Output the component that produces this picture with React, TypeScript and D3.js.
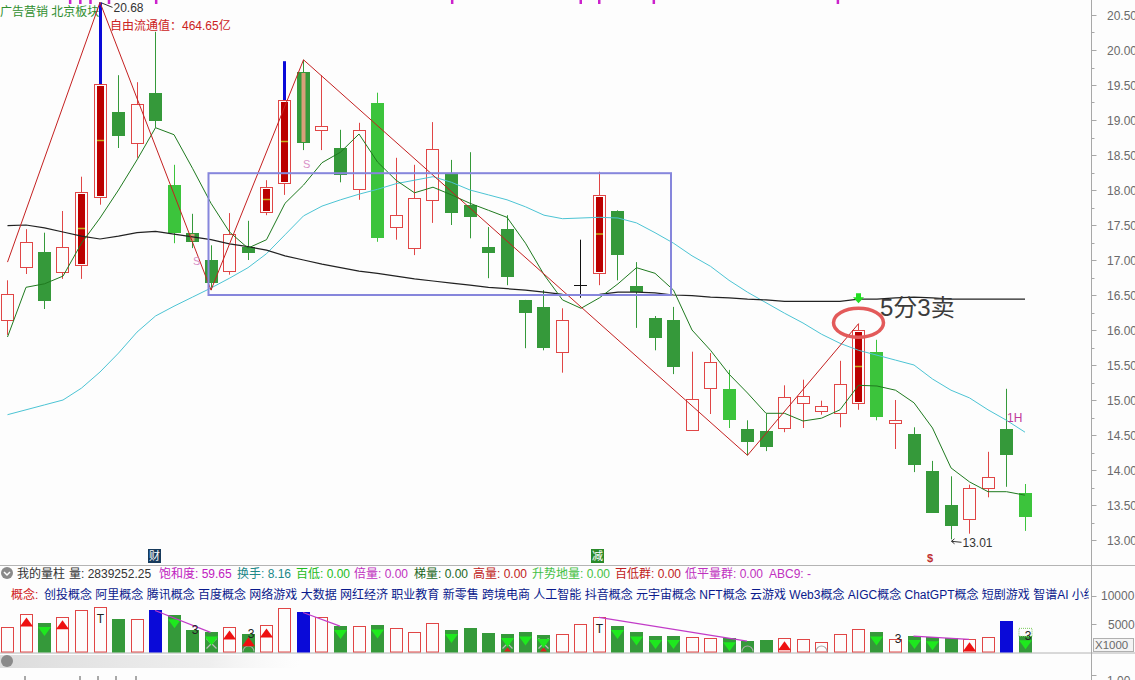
import React from "react";
import * as d3 from "d3";

// ---------- data ----------
const opens = [16.14, 16.9, 17.11, 16.83, 16.93, 17.9, 19.11, 18.67, 19.39, 18.07, 17.39, 17.0, 16.84, 17.19, 17.69, 18.1, 19.69, 18.86, 18.6, 18.01, 19.24, 17.47, 17.17, 17.86, 18.24, 17.79, 17.19, 17.44, 16.43, 16.33, 15.69, 16.64, 16.81, 17.7, 16.63, 16.17, 16.14, 14.57, 15.17, 15.16, 14.59, 14.56, 14.6, 14.96, 14.84, 14.81, 14.96, 15.69, 14.67, 14.51, 13.99, 13.5, 13.3, 13.74, 14.59, 13.67];
const highs = [16.71, 17.44, 17.39, 17.7, 18.19, 20.68, 19.64, 19.54, 20.26, 18.36, 17.66, 17.21, 17.67, 17.56, 18.14, 19.84, 19.86, 19.64, 18.86, 18.96, 19.39, 18.46, 18.36, 18.97, 18.43, 18.54, 17.47, 17.64, 16.43, 16.57, 16.31, 17.29, 18.26, 17.71, 16.97, 16.2, 16.33, 15.69, 15.67, 15.43, 14.71, 14.8, 15.21, 15.29, 14.99, 15.56, 16.09, 15.86, 15.0, 14.61, 14.13, 13.91, 13.79, 14.26, 15.16, 13.8];
const lows = [15.93, 16.8, 16.3, 16.73, 16.73, 17.79, 18.6, 18.46, 18.89, 17.24, 17.17, 16.57, 16.79, 17.0, 17.64, 17.93, 18.57, 18.57, 18.11, 17.86, 17.26, 17.29, 17.07, 17.53, 17.5, 17.31, 16.74, 16.64, 15.74, 15.71, 15.39, 16.46, 16.64, 16.71, 16.03, 15.71, 15.37, 14.56, 14.8, 14.6, 14.21, 14.27, 14.54, 14.6, 14.79, 14.61, 14.86, 14.71, 14.3, 13.97, 13.39, 13.01, 13.09, 13.61, 13.76, 13.13];
const closes = [16.51, 17.26, 16.41, 17.19, 17.97, 19.51, 18.77, 19.23, 18.99, 17.39, 17.26, 16.67, 17.37, 17.1, 18.04, 19.29, 18.67, 18.91, 18.21, 18.86, 17.31, 17.64, 17.89, 18.59, 17.67, 17.61, 17.1, 16.76, 16.24, 15.74, 16.14, 16.64, 17.93, 17.07, 16.54, 15.89, 15.47, 15.01, 15.54, 14.71, 14.4, 14.33, 15.04, 15.06, 14.91, 15.23, 16.0, 14.76, 14.71, 14.07, 13.39, 13.2, 13.74, 13.9, 14.21, 13.33];
// h = hollow red, s = solid red, g = green, G = bright green, gs = green with mark, d = doji
const candleKinds = ["h","h","g","h","s","s","g","h","g","G","gs","g","h","g","s","s","gs","h","g","h","G","h","h","h","g","g","g","g","g","g","h","d","s","g","g","g","g","h","h","G","g","g","h","h","h","h","s","G","h","g","g","g","h","h","g","G"];
const blueWickIdx = [5, 15];

const ma5 = [15.9, 16.61, 16.66, 16.77, 17.24, 17.6, 18.0, 18.43, 18.89, 18.79, 18.31, 17.81, 17.4, 17.17, 17.29, 17.81, 18.07, 18.39, 18.54, 18.8, 18.4, 18.14, 17.96, 18.04, 17.93, 17.81, 17.71, 17.61, 17.24, 16.79, 16.43, 16.31, 16.46, 16.66, 16.89, 16.81, 16.57, 16.0, 15.71, 15.37, 15.1, 14.81, 14.81, 14.7, 14.74, 14.86, 15.21, 15.2, 15.14, 14.96, 14.6, 14.03, 13.83, 13.69, 13.69, 13.64];
const ma20 = [14.79, 14.86, 14.93, 15.0, 15.17, 15.4, 15.67, 15.97, 16.2, 16.34, 16.47, 16.6, 16.74, 16.89, 17.09, 17.36, 17.63, 17.77, 17.86, 17.94, 18.01, 18.09, 18.14, 18.19, 18.11, 18.0, 17.93, 17.86, 17.76, 17.64, 17.59, 17.6, 17.61, 17.6, 17.53, 17.39, 17.24, 17.06, 16.91, 16.71, 16.54, 16.39, 16.24, 16.1, 15.94, 15.81, 15.71, 15.64, 15.57, 15.5, 15.3, 15.14, 15.03, 14.86, 14.71, 14.54];
const ma60 = [17.49, 17.5, 17.46, 17.4, 17.34, 17.3, 17.34, 17.39, 17.41, 17.37, 17.33, 17.29, 17.23, 17.19, 17.14, 17.06, 17.0, 16.94, 16.89, 16.84, 16.81, 16.77, 16.73, 16.7, 16.67, 16.64, 16.61, 16.59, 16.57, 16.54, 16.51, 16.5, 16.51, 16.54, 16.54, 16.53, 16.5, 16.49, 16.47, 16.46, 16.44, 16.43, 16.41, 16.41, 16.41, 16.41, 16.44, 16.44, 16.46, 16.47, 16.46, 16.44, 16.44, 16.44, 16.44, 16.44];
const zigIdx = [0, 5, 11, 16, 40, 46];
const zigVal = [16.97, 20.68, 16.57, 19.86, 14.21, 16.09];
const boxRange = { from: 11, to: 36, lo: 16.5, hi: 18.24 };

const volumes = [4420, 6700, 5174, 6227, 7402, 7928, 5929, 5876, 7402, 6578, 3894, 3543, 4420, 3192, 4771, 7753, 7051, 6174, 4648, 4648, 4771, 4297, 3543, 5122, 3947, 4297, 3420, 3245, 3543, 3070, 3245, 4999, 6174, 4648, 3543, 2894, 2894, 2666, 2491, 2491, 2017, 2140, 2491, 2315, 1894, 3192, 4122, 3543, 2315, 2894, 2666, 2491, 2315, 2666, 5525, 2839];
const volKinds = ["h","h","g","h","h","h","g","h","b","g","g","g","h","g","h","h","b","h","g","h","g","h","h","h","g","g","g","g","g","g","h","h","h","g","g","g","g","h","h","g","g","g","h","h","h","h","h","g","h","g","g","g","h","h","b","g"];
const volDownMarks = [2, 9, 11, 18, 20, 24, 27, 28, 29, 33, 34, 35, 36, 39, 47, 49, 50, 55];
const volUpMarks = [1, 3, 12, 13, 14, 42, 52];
const volXMarks = [11, 27, 29];
const volCircleMarks = [13, 40, 44];
const volLabels: [number, string][] = [[5, "T"], [32, "T"], [10, "3"], [13, "3"], [48, "3"], [55, "3"]];
const volLinks: [number, number][] = [[8, 11], [16, 18], [32, 40], [49, 52]];

const priceTicks = [13, 13.5, 14, 14.5, 15, 15.5, 16, 16.5, 17, 17.5, 18, 18.5, 19, 19.5, 20, 20.5];
const volTicks = [5000, 10000];
const topMarks = [3.4, 3.95, 4.5, 5.5, 8.05, 24.05, 31.0, 32.0, 34.95, 44.9];

const statusItems: [string, string][] = [
  ["我的量柱", "#333"],
  ["量: 2839252.25", "#333"],
  ["饱和度: 59.65", "#c020c0"],
  ["换手: 8.16", "#208888"],
  ["百低: 0.00", "#22bb22"],
  ["倍量: 0.00", "#c030c0"],
  ["梯量: 0.00", "#226622"],
  ["高量: 0.00", "#c02020"],
  ["升势地量: 0.00", "#44c044"],
  ["百低群: 0.00", "#c02020"],
  ["低平量群: 0.00", "#c030c0"],
  ["ABC9: -", "#c030c0"],
];
const statusX = [17, 69, 159, 237, 296, 354, 414, 473, 532, 615, 685, 769];
const concepts = ["创投概念", "阿里概念", "腾讯概念", "百度概念", "网络游戏", "大数据", "网红经济", "职业教育", "新零售", "跨境电商", "人工智能", "抖音概念", "元宇宙概念", "NFT概念", "云游戏", "Web3概念", "AIGC概念", "ChatGPT概念", "短剧游戏", "智谱AI", "小红书"];

const FONT = "'Liberation Sans', Arial, 'Noto Sans CJK SC', sans-serif";
const RED = "#e04646";
const DRED = "#bb0000";
const GREEN = "#35993a";
const BGREEN = "#3cc43c";
const BLUE = "#0a0ad8";

export default function App() {
  React.useEffect(() => {
    document.body.style.margin = "0";
  }, []);

  const x = d3.scaleLinear().domain([0, 55]).range([7, 1024.5]);
  const y = d3.scaleLinear().domain([13, 20]).range([540, 50]);
  const vy = d3.scaleLinear().domain([0, 10000]).range([652.5, 595.7]);
  const idx = d3.range(closes.length);
  const cxOf = (i: number) => Math.round(x(i));

  const lineGen = (arr: number[]) =>
    d3.line<number>().x((_, i) => x(i) + 0.5).y((d) => y(d))(arr) || "";
  const zigPath =
    d3.line<number>().x((d) => x(d) + 0.5).y((_, k) => y(zigVal[k]))(zigIdx) || "";

  const axisX = 1091.5;

  return (
    <div style={{ position: "absolute", left: 0, top: 0 }}>
      <svg width={1135} height={680} style={{ display: "block", background: "#fdfdfd" }} fontFamily={FONT}>
        <defs>
          <clipPath id="main">
            <rect x={0} y={0} width={1091} height={565} />
          </clipPath>
          <clipPath id="left">
            <rect x={0} y={0} width={1089} height={680} />
          </clipPath>
          <linearGradient id="blur" x1="0" x2="1" y1="0" y2="0">
            <stop offset="0" stopColor="#d8d8d8" stopOpacity="0.9" />
            <stop offset="0.7" stopColor="#e8e8e8" stopOpacity="0.7" />
            <stop offset="1" stopColor="#f4f4f4" stopOpacity="0" />
          </linearGradient>
        </defs>

        {/* header texts */}
        <text x={0} y={16} fontSize={12} fill="#2f8f2f">广告营销 北京板块</text>
        <text x={110} y={30} fontSize={12} fill="#cc2222">自由流通值：464.65亿</text>

        {/* magenta marks at top */}
        {topMarks.map((m, k) => (
          <rect key={"tm" + k} x={x(m) - 1} y={0} width={2.5} height={4} fill="#cc22cc" />
        ))}

        <g clipPath="url(#main)">
          {/* candles */}
          {idx.map((i) => {
            const cx = cxOf(i);
            const k = candleKinds[i];
            const o = opens[i], c = closes[i], h = highs[i], l = lows[i];
            const top = Math.round(y(Math.max(o, c)));
            const bot = Math.round(y(Math.min(o, c)));
            const yh = y(h), yl = y(l);
            const isRed = k === "h" || k === "s";
            const blueWick = blueWickIdx.includes(i);
            if (k === "d") {
              return (
                <g key={"c" + i}>
                  <line x1={cx + 0.5} x2={cx + 0.5} y1={yh} y2={yl} stroke="#111" />
                  <line x1={cx - 6} x2={cx + 7} y1={top + 0.5} y2={top + 0.5} stroke="#111" />
                </g>
              );
            }
            if (isRed) {
              return (
                <g key={"c" + i}>
                  {blueWick ? (
                    <line x1={cx + 0.5} x2={cx + 0.5} y1={yh} y2={top} stroke={BLUE} strokeWidth={3} />
                  ) : (
                    <line x1={cx + 0.5} x2={cx + 0.5} y1={yh} y2={top} stroke={RED} />
                  )}
                  <line x1={cx + 0.5} x2={cx + 0.5} y1={bot} y2={yl} stroke={RED} />
                  <rect x={cx - 5.5} y={top + 0.5} width={12} height={Math.max(bot - top, 1)} fill={k === "s" ? "#fdfdfd" : "none"} stroke={RED} />
                  {k === "s" && (
                    <>
                      <rect x={cx - 3} y={top + 2} width={7} height={Math.max(bot - top - 3, 1)} fill={DRED} />
                      <line x1={cx - 3} x2={cx + 4} y1={(top + bot) / 2} y2={(top + bot) / 2} stroke="#c8b020" strokeWidth={1.5} />
                    </>
                  )}
                </g>
              );
            }
            const col = k === "G" ? BGREEN : GREEN;
            return (
              <g key={"c" + i}>
                <line x1={cx + 0.5} x2={cx + 0.5} y1={yh} y2={yl} stroke={col} />
                <rect x={cx - 6} y={top} width={13} height={Math.max(bot - top, 1.5)} fill={col} />
                {k === "gs" && (
                  <rect x={cx - 1.5} y={top + 1} width={4} height={Math.max(bot - top - 2, 1)} fill="#d9a07a" />
                )}
              </g>
            );
          })}

          {/* moving averages */}
          <path d={lineGen(ma20)} fill="none" stroke="#4cc4d4" strokeWidth={1} />
          <path d={lineGen(ma60)} fill="none" stroke="#222" strokeWidth={1.2} />
          <path d={lineGen(ma5)} fill="none" stroke="#1f7a1f" strokeWidth={1} />
          <path d={zigPath} fill="none" stroke="#c42020" strokeWidth={1} />

          {/* box */}
          <rect
            x={x(boxRange.from) - 2}
            y={y(boxRange.hi)}
            width={x(boxRange.to) - x(boxRange.from)}
            height={y(boxRange.lo) - y(boxRange.hi)}
            fill="none"
            stroke="#8686dc"
            strokeWidth={2}
          />

          {/* annotations */}
          <line x1={x(5) + 2} y1={y(20.68) + 0.5} x2={x(5) + 13} y2={y(20.68) + 5} stroke="#333" />
          <text x={x(5) + 14} y={y(20.68) + 10} fontSize={12} fill="#333">20.68</text>

          <line x1={x(51) + 1} y1={y(13.01) + 2} x2={x(51) + 11} y2={y(13.01) + 3} stroke="#333" />
          <path d={`M${x(51) + 1},${y(13.01) + 2} l3,-2.5 M${x(51) + 1},${y(13.01) + 2} l3,2.5`} stroke="#333" fill="none" />
          <text x={x(51) + 12} y={y(13.01) + 8} fontSize={12} fill="#333">13.01</text>

          <text x={x(10) + 1} y={y(17.0) + 5} fontSize={11} fill="#d890c8">S</text>
          <text x={x(16) + 0} y={y(18.39) + 5} fontSize={11} fill="#d890c8">S</text>

          {/* sell signal */}
          <path
            d={`M${x(46) - 2},${y(16.44) - 6} h5 v4 h3 l-5.5,6 l-5.5,-6 h3 z`}
            fill="#22dd22"
          />
          <ellipse cx={x(46) + 0.5} cy={y(16.09) - 1} rx={25} ry={14.5} fill="none" stroke="#e35a5a" strokeWidth={3.5} />
          <text x={880} y={316} fontSize={24} fill="#3c3c3c">5分3卖</text>
          <text x={x(54) + 1} y={422} fontSize={12} fill="#c03a9a">1H</text>

          {/* badges */}
          <rect x={x(8) - 7} y={549} width={13} height={14} fill="#163a5c" />
          <text x={x(8) - 0.5} y={560} fontSize={11} fill="#fff" textAnchor="middle">财</text>
          <rect x={x(32) - 8} y={549} width={13} height={14} fill="#2a8a2a" />
          <text x={x(32) - 1.5} y={560} fontSize={11} fill="#fff" textAnchor="middle">减</text>
          <text x={x(50) - 2} y={562} fontSize={11} fontWeight="bold" fill="#c03030" textAnchor="middle">$</text>
        </g>

        {/* separators */}
        <line x1={0} x2={1135} y1={565.5} y2={565.5} stroke="#b4b4b4" />
        <line x1={0} x2={1135} y1={653} y2={653} stroke="#b4b4b4" />

        {/* status row */}
        <circle cx={7} cy={573} r={6} fill="#8a8a8a" />
        <path d="M4,572 l3,3 l3,-3" stroke="#fff" strokeWidth={1.5} fill="none" />
        {statusItems.map((s, k) => (
          <text key={"st" + k} x={statusX[k]} y={578} fontSize={12} fill={s[1]}>{s[0]}</text>
        ))}

        {/* concept row */}
        <g clipPath="url(#left)">
          <text x={11} y={599} fontSize={12} fill="#d02020">概念:</text>
          <text x={44} y={599} fontSize={12} fill="#0a1a8c">{concepts.join(" ")}</text>
        </g>

        {/* volume bars */}
        {idx.map((i) => {
          const cx = cxOf(i);
          const k = volKinds[i];
          const top = Math.round(vy(volumes[i]));
          const base = vy(0);
          if (k === "h") {
            return (
              <rect key={"v" + i} x={cx - 5.5} y={top + 0.5} width={12} height={base - top - 1} fill="none" stroke={RED} />
            );
          }
          return (
            <rect key={"v" + i} x={cx - 6} y={top} width={13} height={base - top} fill={k === "b" ? BLUE : GREEN} />
          );
        })}
        {volXMarks.map((i) => {
          const cx = cxOf(i) + 0.5;
          const yy = vy(0) - 9;
          return (
            <path key={"vx" + i} d={`M${cx - 5},${yy - 5} L${cx + 5},${yy + 5} M${cx + 5},${yy - 5} L${cx - 5},${yy + 5}`} stroke="#bbb" strokeWidth={1.2} />
          );
        })}
        {[27, 29].map((i) => (
          <path key={"vr" + i} d={`M${cxOf(i) - 3},${vy(0) - 1} l3.5,-4 l3.5,4 z`} fill="#e02020" />
        ))}
        {volCircleMarks.map((i) => (
          <path key={"vc" + i} d={`M${cxOf(i) - 5},${vy(0) - 1} a5.5,5.5 0 0 1 11,0`} fill="none" stroke="#aaa" strokeWidth={1.2} />
        ))}
        {volDownMarks.map((i) => {
          const cx = cxOf(i) + 0.5;
          const t = vy(volumes[i]) + 4;
          return (
            <path key={"vd" + i} d={`M${cx - 6.5},${t} L${cx + 6.5},${t} L${cx},${t + 9} Z`} fill="#1ee81e" />
          );
        })}
        {volUpMarks.map((i) => {
          const cx = cxOf(i) + 0.5;
          const t = vy(volumes[i]) + 3;
          return (
            <path key={"vu" + i} d={`M${cx},${t} L${cx + 6.5},${t + 9} L${cx - 6.5},${t + 9} Z`} fill="#ee1111" />
          );
        })}
        {volLinks.map(([a, b], k) => (
          <line key={"vl" + k} x1={x(a)} y1={vy(volumes[a])} x2={x(b)} y2={vy(volumes[b])} stroke="#c23cc8" strokeWidth={1.2} />
        ))}
        {volLabels.map(([i, t], k) => (
          <text
            key={"vt" + k}
            x={cxOf(i) + (t === "T" ? 0.5 : 3)}
            y={vy(volumes[i]) + (t === "T" ? 16 : 4)}
            fontSize={12}
            fill="#222"
            textAnchor="middle"
          >
            {t}
          </text>
        ))}
        <rect x={cxOf(55) - 6} y={vy(volumes[55]) - 8} width={13} height={8} fill="none" stroke="#7acb5a" strokeDasharray="1,1" />

        {/* blurred strip & bottom pane */}
        <rect x={0} y={655} width={300} height={13} fill="url(#blur)" />
        <circle cx={7} cy={661} r={6} fill="#8a8a8a" />
        {[25, 80, 98, 116, 136].map((px, k) => (
          <line key={"bt" + k} x1={px} x2={px} y1={676} y2={680} stroke="#555" />
        ))}

        {/* right axis */}
        <line x1={axisX} x2={axisX} y1={0} y2={680} stroke="#a8a8a8" />
        {priceTicks.map((p) => (
          <g key={"pt" + p}>
            <line x1={axisX} x2={axisX + 5} y1={Math.round(y(p)) + 0.5} y2={Math.round(y(p)) + 0.5} stroke="#a8a8a8" />
            <line x1={axisX} x2={axisX + 3} y1={Math.round(y(p + 0.25)) + 0.5} y2={Math.round(y(p + 0.25)) + 0.5} stroke="#a8a8a8" />
            <text x={1107} y={y(p) + 4.5} fontSize={12} fill="#6a6a6a">{p.toFixed(2)}</text>
          </g>
        ))}
        {volTicks.map((v) => (
          <g key={"vtk" + v}>
            <line x1={axisX} x2={axisX + 5} y1={Math.round(vy(v)) + 0.5} y2={Math.round(vy(v)) + 0.5} stroke="#a8a8a8" />
            <text x={v >= 10000 ? 1101 : 1108} y={vy(v) + 4.5} fontSize={12} fill="#6a6a6a">{v}</text>
          </g>
        ))}
        <rect x={1093.5} y={638.5} width={40} height={13} fill="#f4f4f4" stroke="#b0b0b0" />
        <text x={1095} y={649} fontSize={11.5} fill="#6a6a6a">X1000</text>
        <line x1={axisX} x2={axisX + 5} y1={675.5} y2={675.5} stroke="#a8a8a8" />
        <text x={1107} y={685} fontSize={12} fill="#6a6a6a">1.00</text>
      </svg>
    </div>
  );
}
